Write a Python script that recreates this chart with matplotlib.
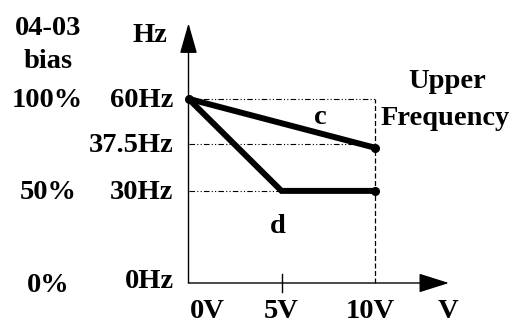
import matplotlib
matplotlib.use("Agg")
import matplotlib.pyplot as plt

# ---- data ----
volts = [0, 5, 10]
curve_c_v = [0, 10]
curve_c_hz = [60, 44.1]
curve_d_v = [0, 5, 10]
curve_d_hz = [60, 30, 30]
hz_tick_pos = [0, 30, 45.3, 60]
hz_tick_labels = ["0Hz", "30Hz", "37.5Hz", "60Hz"]
bias_pos = [0, 30, 60]
bias_labels = ["0%", "50%", "100%"]
v_tick_labels = ["0V", "5V", "10V"]

W, H = 519, 325
fig = plt.figure(figsize=(W / 100, H / 100), dpi=100)
ax = fig.add_axes([0, 0, 1, 1])
ax.set_axis_off()
# pixel mapping: x = 188.5 + 18.6*V ; y = 283 - 3.07*Hz
ax.set_xlim(-188.5 / 18.6, (W - 188.5) / 18.6)
ax.set_ylim((283 - H) / 3.07, 283 / 3.07)

font = dict(family="Liberation Serif", weight="bold", size=20.5)
k = "black"

# axes with arrows
ax.annotate("", xy=(0, 84.6), xytext=(0, 0),
            arrowprops=dict(arrowstyle="-|>,head_length=19,head_width=5.4",
                            mutation_scale=1, lw=1.0, color=k, shrinkA=0, shrinkB=0))
ax.annotate("", xy=(14.0, 0), xytext=(0, 0),
            arrowprops=dict(arrowstyle="-|>,head_length=19,head_width=6",
                            mutation_scale=1, lw=1.0, color=k, shrinkA=0, shrinkB=0))
# 5V tick
ax.plot([5, 5], [-3, 3], color=k, lw=1.0)

# guide lines
dd = (0, (5, 2, 1, 2, 1, 2))
ax.plot([0, 10], [60, 60], color=k, lw=0.8, ls=dd)
ax.plot([0, 10], [45.3, 45.3], color=k, lw=0.8, ls=dd)
ax.plot([0, 5], [30, 30], color=k, lw=0.8, ls=dd)
ax.plot([10, 10], [0, 60], color=k, lw=0.9, ls=(0, (4, 2)))

# curves
ax.plot(curve_c_v, curve_c_hz, color=k, lw=4.3, solid_capstyle="butt", zorder=3)
ax.plot(curve_d_v, curve_d_hz, color=k, lw=4.3, solid_capstyle="butt",
        solid_joinstyle="miter", zorder=3)
ax.plot([curve_c_v[0], curve_c_v[-1], curve_d_v[-1]],
        [curve_c_hz[0], curve_c_hz[-1], curve_d_hz[-1]],
        "o", color=k, ms=5.5, zorder=4)

# y labels (baseline placement)
for p, lab in zip(hz_tick_pos, hz_tick_labels):
    ax.text(-0.8, p - 2.65 if p else -1.63, lab, ha="right", va="baseline", **font)
for p, lab in zip(bias_pos, bias_labels):
    ax.text(-7.57, p - 2.65 if p else -2.93, lab, ha="center", va="baseline", **font)
ax.text(-7.57, 80.78, "04-03", ha="center", va="baseline", **font)
ax.text(-7.57, 70.03, "bias", ha="center", va="baseline", **font)
ax.text(-2.07, 78.5, "Hz", ha="center", va="baseline", **font)

# x labels
for v, lab in zip(volts, v_tick_labels):
    ax.text(v + (1.0 if v == 0 else (-0.24 if v == 10 else 0)), -11.5, lab,
            ha="center", va="baseline", **font)
ax.text(13.95, -11.5, "V", ha="center", va="baseline", **font)

# annotations
ax.text(7.07, 51.79, "c", ha="center", va="baseline", **font)
ax.text(4.8, 16.29, "d", ha="center", va="baseline", **font)
ax.text(13.9, 63.52, "Upper", ha="center", va="baseline", **font)
ax.text(13.8, 51.47, "Frequency", ha="center", va="baseline", **font)

fig.savefig("out.png", dpi=100)
